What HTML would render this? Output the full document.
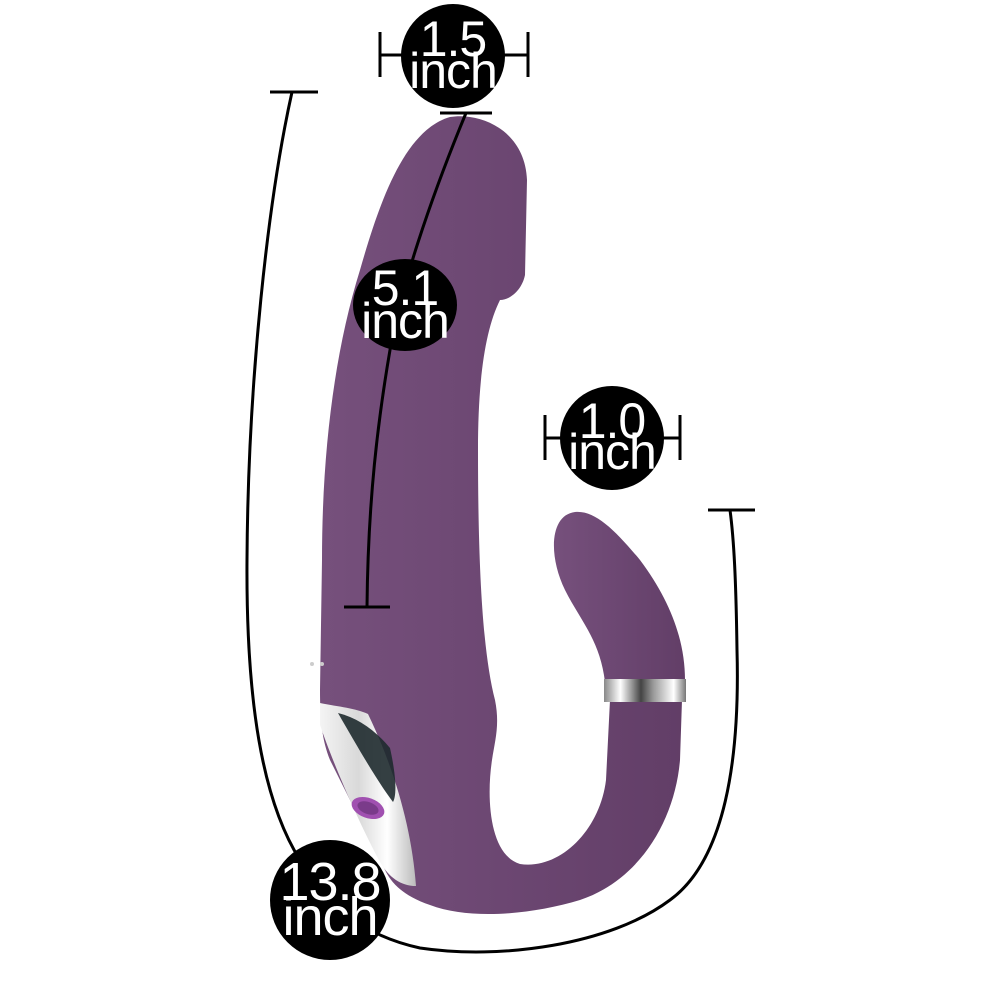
<!DOCTYPE html>
<html><head><meta charset="utf-8"><style>
html,body{margin:0;padding:0;background:#fff;}
svg{display:block}
text{font-family:"Liberation Sans",sans-serif;fill:#fff;text-anchor:middle;letter-spacing:-1px}
</style></head><body>
<svg width="1000" height="1000" viewBox="0 0 1000 1000">
<defs>
<linearGradient id="pg" x1="0" y1="0" x2="1" y2="0">
<stop offset="0" stop-color="#76507c"/><stop offset="0.5" stop-color="#6c4772"/><stop offset="1" stop-color="#623e67"/>
</linearGradient>
<linearGradient id="ch" x1="0" y1="0" x2="1" y2="0">
<stop offset="0" stop-color="#f4f4f4"/><stop offset="0.4" stop-color="#d9d9d9"/><stop offset="0.7" stop-color="#fff"/><stop offset="1" stop-color="#bbb"/>
</linearGradient>
<linearGradient id="ring" x1="0" y1="0" x2="1" y2="0">
<stop offset="0" stop-color="#888"/><stop offset="0.2" stop-color="#fff"/><stop offset="0.45" stop-color="#444"/><stop offset="0.6" stop-color="#999"/><stop offset="0.85" stop-color="#fff"/><stop offset="1" stop-color="#777"/>
</linearGradient>
</defs>
<path fill="url(#pg)" d="M450 117 C480 112 525 130 527 180 L525 275 C522 290 510 300 500 300 C485 330 478 380 478 450 C478 560 482 650 495 700 C500 725 495 740 492 760 C486 800 490 855 520 864 C560 870 600 830 606 780 L610 700 L682 700 L680 760 C675 820 640 880 580 900 C530 915 470 920 430 905 C400 895 390 880 385 870 L330 760 C322 740 320 720 320 690 L322 560 C322 450 335 350 360 270 C380 200 405 130 450 117 Z"/>
<path fill="url(#ch)" d="M320 703 C340 707 355 708 368 714 C395 770 412 830 416 886 C400 886 388 876 380 862 C355 815 332 760 320 725 Z"/>
<path fill="#1e2a2e" d="M338 713 C358 718 375 730 390 748 C396 775 397 795 393 802 C380 785 362 755 338 713 Z" opacity="0.9"/>
<ellipse cx="368" cy="808" rx="17" ry="10" fill="#a050b0" transform="rotate(20 368 808)"/>
<ellipse cx="368" cy="808" rx="11" ry="6" fill="#7a3b8a" transform="rotate(20 368 808)"/>
<path fill="url(#pg)" d="M575 512 C595 510 615 530 640 560 C670 600 685 640 685 680 L605 682 C600 640 580 620 565 590 C548 555 550 515 575 512 Z"/>
<rect x="604" y="679" width="82" height="23" fill="url(#ring)"/>
<circle cx="312" cy="664" r="2" fill="#ccc"/><circle cx="322" cy="664" r="2" fill="#ccc"/>
<g stroke="#000" stroke-width="3" fill="none">
<line x1="380" y1="55" x2="528" y2="55"/><line x1="380" y1="32" x2="380" y2="77"/><line x1="528" y1="32" x2="528" y2="77"/>
<line x1="440" y1="113" x2="492" y2="113"/>
<path d="M466 113 C430 200 400 290 390 350 C378 420 368 500 367 607"/>
<line x1="344" y1="607" x2="390" y2="607"/>
<line x1="545" y1="438" x2="680" y2="438"/><line x1="545" y1="415" x2="545" y2="460"/><line x1="680" y1="415" x2="680" y2="460"/>
<line x1="270" y1="92" x2="318" y2="92"/>
<path d="M292 92 C268 200 248 380 247 560 C246 700 262 800 300 860 C330 905 360 935 420 948 C500 960 610 945 670 900 C725 860 740 760 737 650 C736 580 734 540 730 510"/>
<line x1="708" y1="510" x2="755" y2="510"/>
</g>
<circle cx="453" cy="56" r="52" fill="#000"/>
<text x="453" y="56" font-size="50">1.5</text><text x="453" y="88" font-size="50">inch</text>
<ellipse cx="405" cy="305" rx="52" ry="46" fill="#000"/>
<text x="405" y="305" font-size="50">5.1</text><text x="405" y="338" font-size="50">inch</text>
<circle cx="612" cy="438" r="52" fill="#000"/>
<text x="612" y="438" font-size="50">1.0</text><text x="612" y="469" font-size="50">inch</text>
<circle cx="330" cy="900" r="60" fill="#000"/>
<text x="330" y="900" font-size="54">13.8</text><text x="330" y="935" font-size="54">inch</text>
</svg>
</body></html>
